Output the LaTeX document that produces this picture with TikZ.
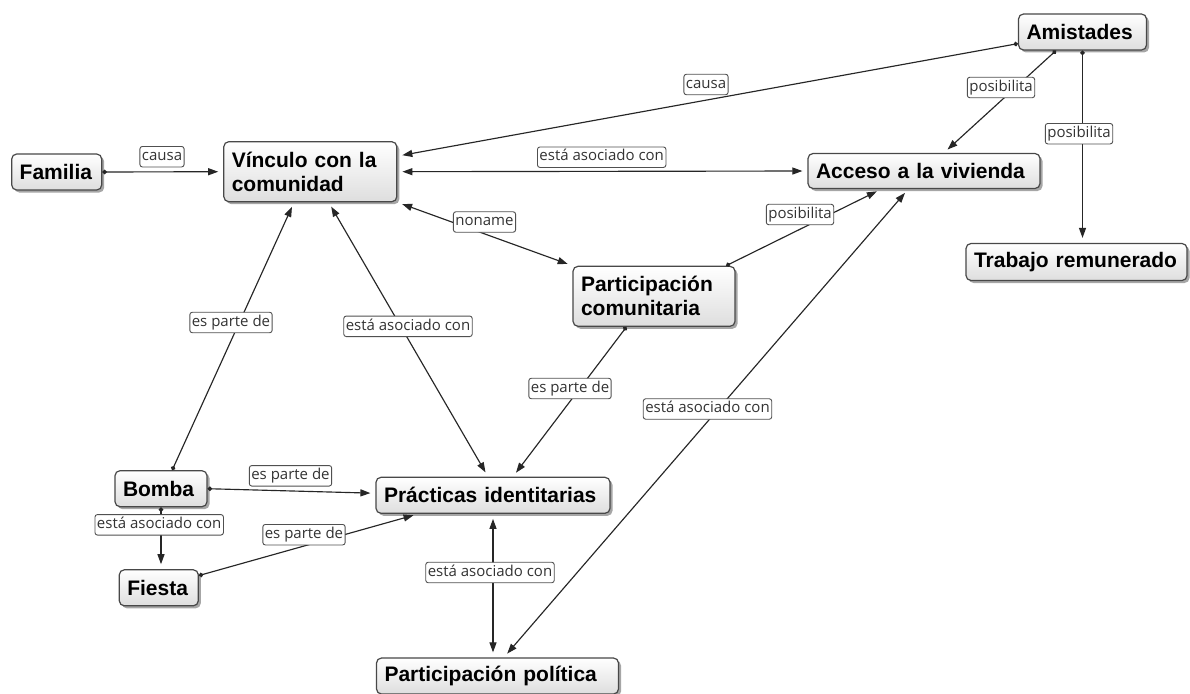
\documentclass[tikz,border=0pt]{standalone}
\usepackage{fontspec}
\setmainfont{Liberation Sans}
\newfontfamily\labfont{Open Sans}
\usetikzlibrary{arrows.meta,shadows,calc}

\definecolor{edgec}{HTML}{262626}
\definecolor{boxborder}{HTML}{484848}
\definecolor{labtext}{HTML}{333333}
\definecolor{labborder}{HTML}{505050}

\begin{document}
\begin{tikzpicture}[x=1pt,y=-1pt,
 concept/.style={rounded corners=5pt, draw=boxborder, line width=1.2pt,
   top color=white, bottom color=black!13,
   drop shadow={shadow xshift=2.5pt,shadow yshift=-2.5pt,fill=black,opacity=0.35},
   font=\bfseries\fontsize{21}{24}\selectfont, align=left,
   inner xsep=8pt, inner ysep=0pt, text=black},
 lab/.style={rounded corners=2.5pt, draw=labborder, line width=0.9pt, fill=white,
   font=\labfont\fontsize{15}{17}\selectfont, text=labtext,
   inner xsep=2pt, inner ysep=3pt, text height=11pt, text depth=3.5pt},
 tipend/.tip={Triangle[length=10pt,width=7pt]},
 link/.style={draw=edgec, line width=1.15pt,
   {Circle[length=4.5pt]}-tipend, shorten >=5pt},
 bilink/.style={draw=edgec, line width=1.15pt,
   tipend-tipend, shorten >=5pt, shorten <=5pt},
]
\useasboundingbox (0,0) rectangle (1190,693);
\fill[white] (0,0) rectangle (1190,693);

% concepts
\node[concept, text width=74pt,  minimum height=36pt] (fam)     at (56.7,172)   {Familia};
\node[concept, text width=157pt, minimum height=60pt] (vinc)    at (310.3,171.7){V\'inculo con la\\comunidad};
\node[concept, text width=112pt, minimum height=36pt] (amis)    at (1082.5,32)  {Amistades};
\node[concept, text width=216pt, minimum height=35pt] (acc)     at (924,171)    {Acceso a la vivienda};
\node[concept, text width=205pt, minimum height=37pt] (trab)    at (1076.5,262) {Trabajo remunerado};
\node[concept, text width=146pt, minimum height=60pt] (partcom) at (654,296.3)  {Participaci\'on\\comunitaria};
\node[concept, text width=218pt, minimum height=36pt] (prac)    at (493,495.3)  {Pr\'acticas identitarias};
\node[concept, text width=76pt,  minimum height=36pt] (bomba)   at (161,488.7)  {Bomba};
\node[concept, text width=63pt,  minimum height=36pt] (fiesta)  at (158.8,587.8){Fiesta};
\node[concept, text width=226pt, minimum height=36pt] (partpol) at (497.5,676)   {Participaci\'on pol\'itica};

% connectors
\draw[link]   (fam.east) -- (vinc.west);
\draw[link]   (amis) -- (vinc);
\draw[bilink] (vinc.east) -- (acc.west);
\draw[link]   (amis.215) -- (acc);
\draw[link]   (amis.south) -- (amis.south |- trab.north);
\draw[bilink] (vinc.south east) -- (partcom.north west);
\draw[link]   (partcom.23) -- (acc.203);
\draw[bilink] (partpol.71) -- (acc.229);
\draw[link]   (bomba.59) -- (vinc.242);
\draw[bilink] (vinc.301) -- (prac.105);
\draw[link]   (partcom.228) -- (prac.43);
\draw[link]   (bomba.east) -- (prac.179);
\draw[link]   (bomba.south) -- (bomba.south |- fiesta.north);
\draw[link]   (fiesta.17) -- (prac.194);
\draw[bilink] (prac.south) -- (prac.south |- partpol.north);

% labels
\node[lab] (l1)  at (162,156.7)   {causa};
\node[lab] (l2)  at (706,84.5)    {causa};
\node[lab] (l3)  at (601.7,157.2) {est\'a asociado con};
\node[lab] (l4)  at (1001,87.5)   {posibilita};
\node[lab] (l5)  at (1079,133.7)  {posibilita};
\node[lab] (l6)  at (484.5,222)   {noname};
\node[lab] (l7)  at (800,214.5)   {posibilita};
\node[lab] (l8)  at (231,322.5)   {es parte de};
\node[lab] (l9)  at (408,326.3)   {est\'a asociado con};
\node[lab] (l10) at (570,388.5)   {es parte de};
\node[lab] (l11) at (707.5,409)   {est\'a asociado con};
\node[lab] (l12) at (290.5,475.8) {es parte de};
\node[lab] (l13) at (159.2,524.8) {est\'a asociado con};
\node[lab] (l14) at (304,534.7)   {es parte de};
\node[lab] (l15) at (490,572.5)   {est\'a asociado con};
\end{tikzpicture}
\end{document}
